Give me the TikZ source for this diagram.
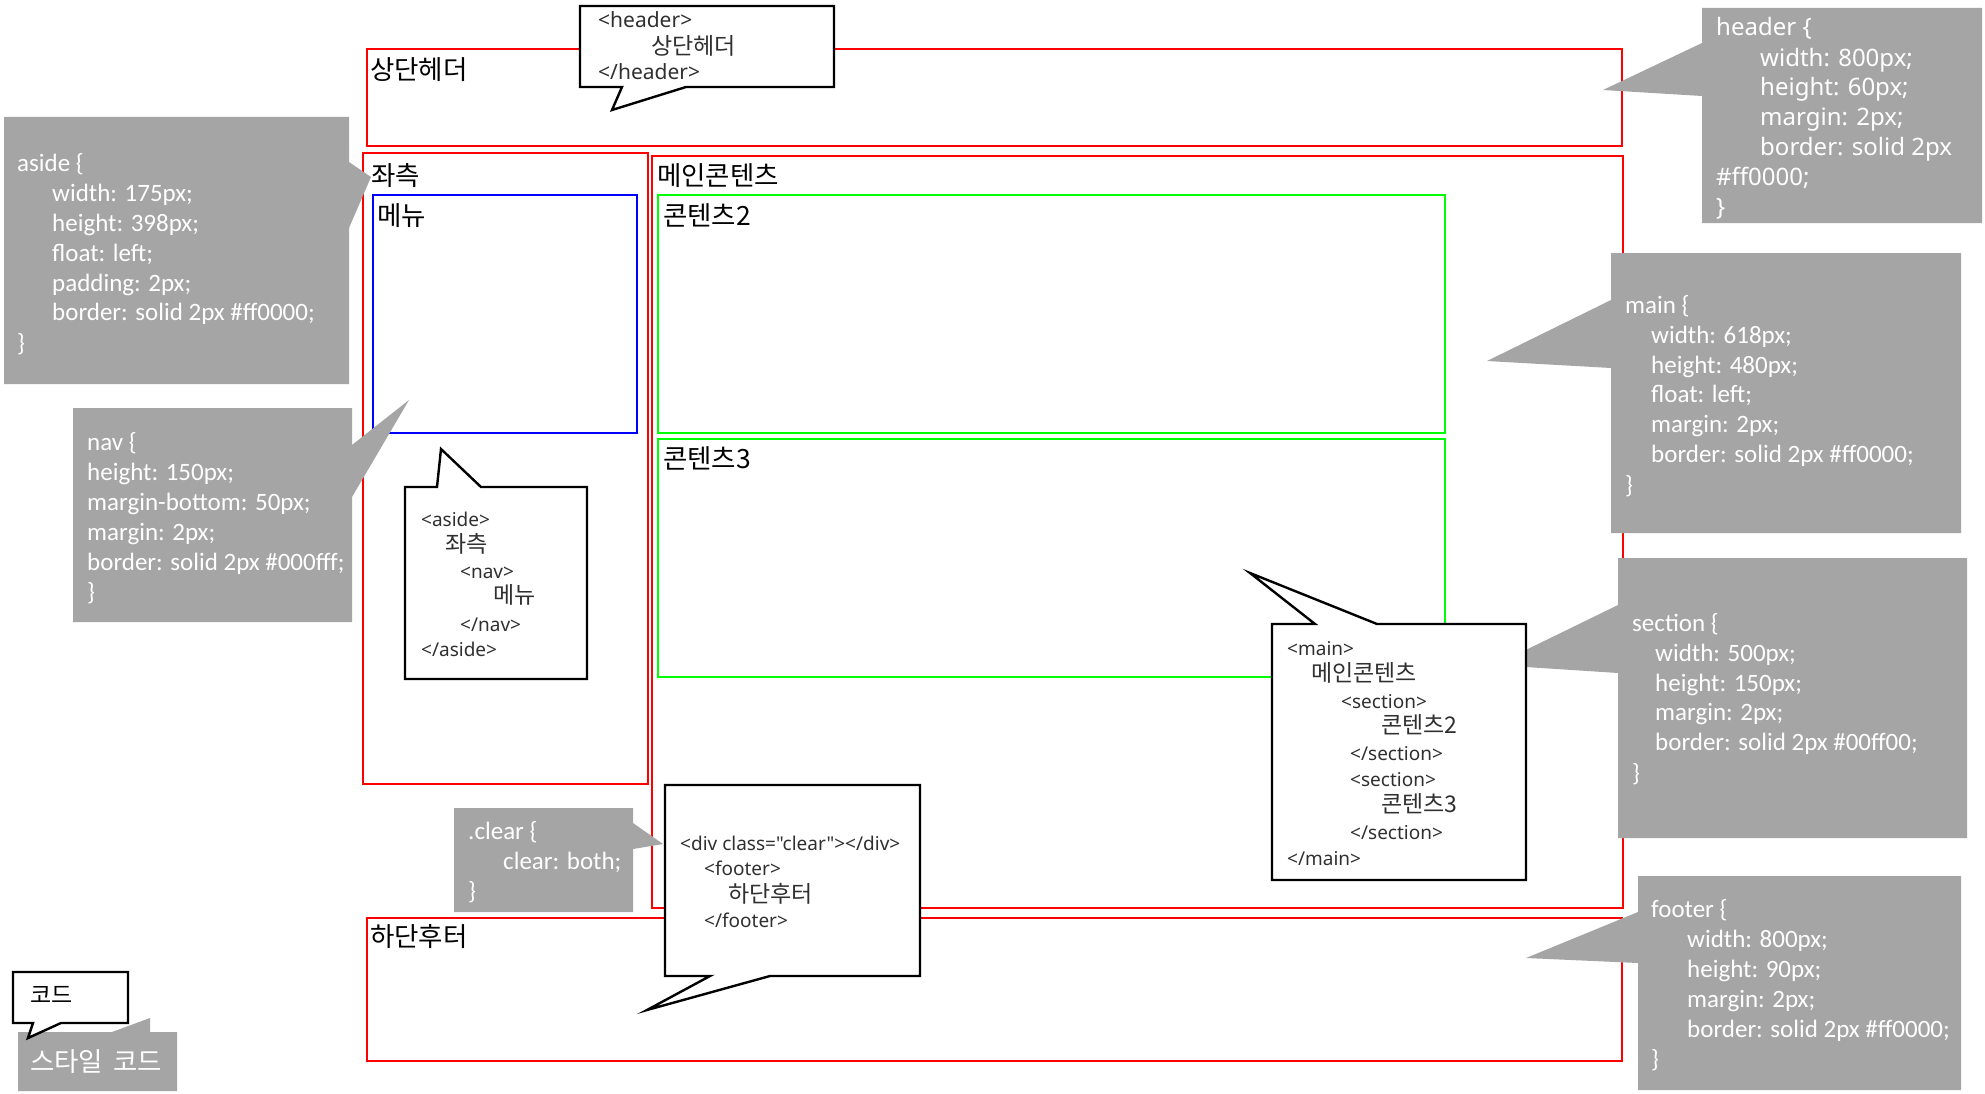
\documentclass[tikz,border=0pt]{standalone}
\usepackage{fontspec}
\newfontfamily\krfont{Noto Sans CJK KR}
\newfontfamily\calfont{Carlito}
\newfontfamily\nsfont{Noto Sans}
\definecolor{cssgray}{HTML}{A5A5A5}
\definecolor{redline}{HTML}{FF0000}
\definecolor{blueline}{HTML}{0000FF}
\definecolor{greenline}{HTML}{00FF00}
\definecolor{codetext}{HTML}{303030}
\tikzset{
  redbox/.style={draw=redline, line width=2.6pt},
  bluebox/.style={draw=blueline, line width=2.6pt},
  greenbox/.style={draw=greenline, line width=2.6pt},
  cssbox/.style={fill=cssgray},
  callout/.style={draw=black, fill=white, line width=2.4pt, line join=miter},
  lbl/.style={anchor=mid west, inner sep=0pt, yshift=-7pt, text=black, font=\krfont\fontsize{26.5}{30}\selectfont},
  css/.style={anchor=mid west, inner sep=0pt, yshift=-5pt, text=white, font=\calfont\fontsize{25}{30}\selectfont},
  hcss/.style={anchor=mid west, inner sep=0pt, yshift=-4pt, text=white, font=\nsfont\fontsize{24}{29}\selectfont},
  code/.style={anchor=mid west, inner sep=0pt, yshift=-5pt, text=codetext, font=\nsfont\fontsize{19}{26}\selectfont},
  hcode/.style={anchor=mid west, inner sep=0pt, yshift=-5pt, text=codetext, font=\nsfont\fontsize{21}{26}\selectfont},
  codekr/.style={anchor=mid west, inner sep=0pt, yshift=-6pt, text=codetext, font=\krfont\fontsize{23}{26}\selectfont},
}
\begin{document}
\begin{tikzpicture}[x=1pt,y=-1pt]
\useasboundingbox (0,0) rectangle (1985,1094);
\fill[white] (0,0) rectangle (1985,1094);

% ---------- layout boxes ----------
\draw[redbox] (367,49) rectangle (1622,146);
\draw[redbox] (363,153) rectangle (648,784);
\draw[bluebox] (373,195) rectangle (637,433);
\draw[redbox] (652,156) rectangle (1623,908);
\draw[greenbox] (658,195) rectangle (1445,433);
\draw[greenbox] (658,439) rectangle (1445,677);
\draw[redbox] (367,918) rectangle (1622,1061);

% ---------- box labels ----------
\node[lbl] (lheader) at (370,70) {상단헤더};
\node[lbl] (laside) at (371,176) {좌측};
\node[lbl] (lnav) at (377,216) {메뉴};
\node[lbl] (lmain) at (657,176) {메인콘텐츠};
\node[lbl] (lsec2) at (663,216) {콘텐츠2};
\node[lbl] (lsec3) at (663,459) {콘텐츠3};
\node[lbl] (lfooter) at (370,937) {하단후터};

% ---------- CSS callouts (gray) ----------
% header
\fill[cssbox] (1702,8) -- (1982,8) -- (1982,223) -- (1702,223) -- (1702,96) -- (1603,90) -- (1702,43) -- cycle;
\node[hcss] (h1) at (1716,29) {header \{};
\node[hcss] (h2) at (1760,60) {width: 800px;};
\node[hcss] (h3) at (1760,89) {height: 60px;};
\node[hcss] (h4) at (1760,119) {margin: 2px;};
\node[hcss] (h5) at (1760,149) {border: solid 2px};
\node[hcss] (h6) at (1716,179) {\#ff0000;};
\node[hcss] (h7) at (1716,209) {\}};

% aside
\fill[cssbox] (4,117) -- (349,117) -- (349,162) -- (371,177) -- (349,228) -- (349,384) -- (4,384) -- cycle;
\node[css] (a1) at (17,164) {aside \{};
\node[css] (a2) at (52,194) {width: 175px;};
\node[css] (a3) at (52,224) {height: 398px;};
\node[css] (a4) at (52,254) {float: left;};
\node[css] (a5) at (52,284) {padding: 2px;};
\node[css] (a6) at (52,313) {border: solid 2px \#ff0000;};
\node[css] (a7) at (17,344) {\}};

% nav
\fill[cssbox] (73,408) -- (352,408) -- (352,445) -- (409,400) -- (352,497) -- (352,622) -- (73,622) -- cycle;
\node[css] (n1) at (87,443) {nav \{};
\node[css] (n2) at (87,473) {height: 150px;};
\node[css] (n3) at (87,503) {margin-bottom: 50px;};
\node[css] (n4) at (87,533) {margin: 2px;};
\node[css] (n5) at (87,563) {border: solid 2px \#000fff;};
\node[css] (n6) at (87,593) {\}};

% main
\fill[cssbox] (1611,253) -- (1961,253) -- (1961,533) -- (1611,533) -- (1611,368) -- (1487,361) -- (1611,300) -- cycle;
\node[css] (m1) at (1625,306) {main \{};
\node[css] (m2) at (1651,336) {width: 618px;};
\node[css] (m3) at (1651,366) {height: 480px;};
\node[css] (m4) at (1651,395) {float: left;};
\node[css] (m5) at (1651,425) {margin: 2px;};
\node[css] (m6) at (1651,455) {border: solid 2px \#ff0000;};
\node[css] (m7) at (1625,486) {\}};

% section
\fill[cssbox] (1618,558) -- (1967,558) -- (1967,838) -- (1618,838) -- (1618,673) -- (1495,665) -- (1618,605) -- cycle;
\node[css] (s1) at (1632,624) {section \{};
\node[css] (s2) at (1655,654) {width: 500px;};
\node[css] (s3) at (1655,684) {height: 150px;};
\node[css] (s4) at (1655,713) {margin: 2px;};
\node[css] (s5) at (1655,743) {border: solid 2px \#00ff00;};
\node[css] (s6) at (1632,774) {\}};

% footer
\fill[cssbox] (1638,876) -- (1961,876) -- (1961,1090) -- (1638,1090) -- (1638,963) -- (1526,958) -- (1638,912) -- cycle;
\node[css] (f1) at (1651,910) {footer \{};
\node[css] (f2) at (1687,940) {width: 800px;};
\node[css] (f3) at (1687,970) {height: 90px;};
\node[css] (f4) at (1687,1000) {margin: 2px;};
\node[css] (f5) at (1687,1030) {border: solid 2px \#ff0000;};
\node[css] (f6) at (1651,1060) {\}};

% clear
\fill[cssbox] (454,808) -- (633,808) -- (633,823) -- (663,844) -- (633,849) -- (633,912) -- (454,912) -- cycle;
\node[css] (c1) at (468,832) {.clear \{};
\node[css] (c2) at (503,862) {clear: both;};
\node[css] (c3) at (468,892) {\}};

% ---------- code callouts (white) ----------
% header
\draw[callout] (580,6) -- (834,6) -- (834,87) -- (686,87) -- (612,110) -- (622,87) -- (580,87) -- cycle;
\node[hcode] (hc1) at (598,20) {<header>};
\node[codekr] (hc2) at (651,46) {상단헤더};
\node[hcode] (hc3) at (598,72) {</header>};

% aside
\draw[callout] (405,487) -- (437,487) -- (441,449) -- (481,487) -- (587,487) -- (587,679) -- (405,679) -- cycle;
\node[code] (ac1) at (421,519) {<aside>};
\node[codekr] (ac2) at (445,544) {좌측};
\node[code] (ac3) at (460,571) {<nav>};
\node[codekr] (ac4) at (493,595) {메뉴};
\node[code] (ac5) at (460,624) {</nav>};
\node[code] (ac6) at (421,649) {</aside>};

% main
\draw[callout] (1272,624) -- (1315,624) -- (1250,573) -- (1377,624) -- (1526,624) -- (1526,880) -- (1272,880) -- cycle;
\node[code] (mc1) at (1287,648) {<main>};
\node[codekr] (mc2) at (1311,673) {메인콘텐츠};
\node[code] (mc3) at (1341,701) {<section>};
\node[codekr] (mc4) at (1381,725) {콘텐츠2};
\node[code] (mc5) at (1350,753) {</section>};
\node[code] (mc6) at (1350,779) {<section>};
\node[codekr] (mc7) at (1381,804) {콘텐츠3};
\node[code] (mc8) at (1350,832) {</section>};
\node[code] (mc9) at (1287,858) {</main>};

% footer
\draw[callout] (665,785) -- (920,785) -- (920,976) -- (770,976) -- (647,1010) -- (710,976) -- (665,976) -- cycle;
\node[code] (fc1) at (680,843) {<div class="clear"></div>};
\node[code] (fc2) at (704,868) {<footer>};
\node[codekr] (fc3) at (728,894) {하단후터};
\node[code] (fc4) at (704,920) {</footer>};

% ---------- legend ----------
\fill[cssbox] (18,1032) -- (112,1032) -- (150,1018) -- (150,1032) -- (177,1032) -- (177,1091) -- (18,1091) -- cycle;
\node[anchor=mid west, inner sep=0pt, yshift=-7pt, text=white, font=\krfont\fontsize{26.5}{30}\selectfont] (lgcss) at (30,1062) {스타일\hspace{4pt} 코드};
\draw[callout] (13,972) -- (128,972) -- (128,1023) -- (61,1023) -- (28,1038) -- (33,1023) -- (13,1023) -- cycle;
\node[anchor=mid west, inner sep=0pt, yshift=-6pt, text=black, font=\krfont\fontsize{23}{26}\selectfont] (lgcode) at (30,995) {코드};
\end{tikzpicture}
\end{document}
